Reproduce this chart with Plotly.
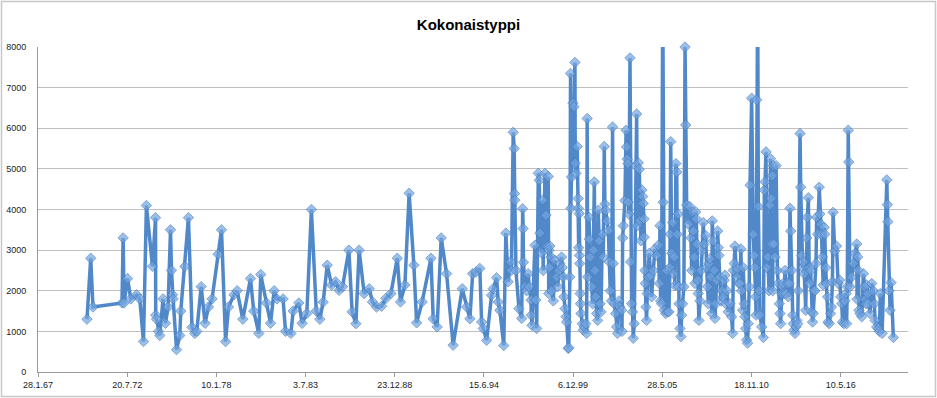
import plotly.graph_objects as go
from datetime import datetime, timedelta

# ---- data (dates as decimal years, values) ----
years_a = [
    1970.08, 1970.31, 1970.45, 1972.23, 1972.30, 1972.36, 1972.57, 1972.77, 1973.12, 1973.32,
    1973.55, 1973.73, 1974.10, 1974.29, 1974.30, 1974.35, 1974.47, 1974.55, 1974.75, 1974.90,
    1975.06, 1975.21, 1975.27, 1975.33, 1975.37, 1975.58, 1975.78, 1975.84, 1976.09, 1976.31,
    1976.53, 1976.70, 1976.82, 1977.09, 1977.33, 1977.54, 1977.76, 1978.13, 1978.34, 1978.59,
    1978.77, 1979.11, 1979.30, 1979.65, 1980.12, 1980.32, 1980.63, 1980.75, 1981.10, 1981.35,
    1981.57, 1981.75, 1982.12, 1982.27, 1982.60, 1982.74, 1983.09, 1983.29, 1983.58, 1983.86,
    1984.16, 1984.38, 1984.58, 1984.83, 1985.10, 1985.34, 1985.56, 1985.77, 1986.16, 1986.36,
    1986.59, 1986.79, 1987.10, 1987.41, 1987.61, 1987.86, 1988.17, 1988.43, 1988.74, 1989.13,
    1989.33, 1989.60, 1989.86, 1990.15, 1990.32, 1990.66, 1991.20, 1991.34, 1991.58, 1991.83,
    1992.16, 1992.56, 1993.12, 1993.39, 1993.59, 1993.76, 1993.96, 1994.20, 1994.31, 1994.41,
    1994.62, 1994.92, 1995.02, 1995.23, 1995.33, 1995.43,
]
values_a = [
    1300, 2800, 1600, 1700, 3300, 1700, 2300, 1800, 1900, 1800,
    750, 4100, 2600, 3800, 1400, 1300, 1000, 900, 1800, 1200,
    1600, 3500, 2500, 1900, 1800, 550, 900, 1500, 2600, 3800,
    1100, 950, 1000, 2100, 1200, 1600, 1800, 2900, 3500, 750,
    1600, 1900, 2000, 1300, 2300, 1500, 950, 2400, 1700, 1200,
    2000, 1800, 1800, 1000, 950, 1500, 1700, 1200, 1440, 4000,
    1500, 1300, 1720, 2630, 2140, 2220, 2010, 2100, 3000, 1480,
    1190, 3000, 1930, 2050, 1725, 1600, 1620, 1810, 1930, 2800,
    1725, 2140, 4400, 2630, 1210, 1725, 2800, 1310, 1110, 3300,
    2420, 660, 2050, 1600, 1310, 2420, 2460, 2550, 1230, 1070,
    780, 1890, 2050, 2320, 1725, 1520,
]

years_b = [
    1995.67, 1995.80, 1995.94, 1996.09, 1996.14, 1996.25, 1996.31, 1996.33, 1996.35, 1996.42,
    1996.60, 1996.77, 1996.83, 1996.86, 1996.88, 1996.97, 1997.07, 1997.17, 1997.23, 1997.34,
    1997.36, 1997.40, 1997.58, 1997.64, 1997.69, 1997.79, 1997.85, 1997.89, 1997.99, 1998.06,
    1998.09, 1998.20, 1998.26, 1998.34, 1998.40, 1998.43, 1998.45, 1998.47, 1998.50, 1998.57,
    1998.61, 1998.71, 1998.81, 1998.92, 1998.98, 1999.06, 1999.12, 1999.22, 1999.26, 1999.32,
    1999.36, 1999.43, 1999.49, 1999.53, 1999.63, 1999.66, 1999.73, 1999.77, 1999.79, 1999.83,
    1999.92, 1999.98, 2000.04, 2000.06, 2000.10, 2000.18, 2000.24, 2000.25, 2000.27, 2000.30,
    2000.32, 2000.33, 2000.36, 2000.38, 2000.41, 2000.49, 2000.55, 2000.61, 2000.70, 2000.76,
    2000.79, 2000.82, 2000.90, 2000.92, 2000.98, 2001.07, 2001.13, 2001.17, 2001.23, 2001.27,
    2001.31, 2001.37, 2001.43, 2001.47, 2001.53, 2001.58, 2001.64, 2001.72, 2001.78, 2001.84,
    2001.88, 2001.94, 2002.01, 2002.09, 2002.15, 2002.21, 2002.29, 2002.35, 2002.39, 2002.45,
    2002.54, 2002.60, 2002.66, 2002.74, 2002.80,
]
values_b = [
    650, 3420, 2220, 2710, 2500, 5900, 5500, 4390, 4230, 2500,
    1560, 1320, 4020, 3530, 2700, 2100, 2000, 2420, 2100, 1770,
    1400, 1150, 3120, 1770, 1070, 4890, 4720, 3420, 2930, 4230,
    2500, 4890, 3860, 3090, 4810, 1930, 3000, 2570, 3100, 2830,
    2000, 1750, 2750, 2340, 2100, 2500, 2670, 2830, 2570, 2340,
    1850, 1560, 1360, 1230, 580, 600, 2340, 7350, 4030, 4800,
    6620, 6530, 7620, 5140, 4890, 5550, 4270, 4030, 3060, 3900,
    2870, 2670, 1930, 1680, 1440, 1190, 1030, 1110, 1190, 950,
    6240, 2340, 3810, 3270, 2830, 2100, 1680, 3000, 4680, 2500,
    1850, 1440, 1270, 3980, 3230, 1680, 1480, 3390, 2830, 5550,
    4130, 3980, 3720, 3480, 2710, 2000, 1750, 6030, 2670, 1680,
    1440, 1110, 950, 1750, 1600,
]

years_c = [
    2002.91, 2002.93, 2002.97, 2003.01, 2003.11, 2003.18, 2003.21, 2003.25, 2003.29, 2003.31,
    2003.35, 2003.42, 2003.46, 2003.52, 2003.58, 2003.62, 2003.68, 2003.77, 2003.83, 2003.87,
    2003.93, 2003.99, 2004.03, 2004.09, 2004.15, 2004.20, 2004.23, 2004.28, 2004.29, 2004.34,
    2004.36, 2004.40, 2004.44, 2004.48, 2004.54, 2004.60, 2004.69, 2004.75, 2004.85, 2004.95,
    2005.06, 2005.16, 2005.22, 2005.26, 2005.30, 2005.36, 2005.43, 2005.46, 2005.52, 2005.61,
    2005.67, 2005.73, 2005.81, 2005.87, 2005.89, 2005.92, 2005.98, 2006.04, 2006.08, 2006.14,
    2006.18, 2006.24, 2006.29, 2006.32, 2006.38, 2006.40, 2006.43, 2006.49, 2006.55, 2006.59,
    2006.65, 2006.73, 2006.80, 2006.84, 2006.90, 2007.00, 2007.10, 2007.16, 2007.21, 2007.27,
    2007.31, 2007.37, 2007.41, 2007.45, 2007.49, 2007.53, 2007.58, 2007.61, 2007.65, 2007.72,
    2007.78, 2007.82, 2007.92, 2007.98, 2008.07, 2008.13, 2008.19, 2008.23, 2008.27, 2008.33,
    2008.39, 2008.44, 2008.47, 2008.53, 2008.59, 2008.64, 2008.68, 2008.74, 2008.80, 2008.84,
    2008.88, 2008.94, 2009.00, 2009.08, 2009.14, 2009.21, 2009.25, 2009.31, 2009.37, 2009.45,
    2009.56, 2009.66, 2009.72, 2009.76, 2009.82, 2009.86, 2009.97, 2010.03, 2010.11, 2010.17,
    2010.23, 2010.27, 2010.34, 2010.37, 2010.43, 2010.48, 2010.52, 2010.58, 2010.64, 2010.68,
    2010.74,
]
values_c = [
    1520, 1000, 3300, 3600, 4220, 5950, 5540, 5240, 5130, 4180,
    3890, 7730, 2710, 1680, 1480, 830, 1190, 5080, 6350, 3600,
    5150, 4990, 3730, 3230, 4480, 4320, 4150, 3770, 3320, 2500,
    2180, 1600, 1270, 1930, 2340, 2920, 2380, 1850, 2500, 3030,
    2870, 3120, 2180, 3600, 1750, 1680, 9500, 4180, 1520, 1440,
    2500, 1480, 1480, 2570, 3390, 5670, 2920, 3680, 2420, 2830,
    2130, 5130, 4920, 3390, 3890, 2100, 1680, 1070, 870, 1400,
    1680, 2100, 8000, 6080, 4110, 3640, 4070, 3300, 2500, 3940,
    3470, 2830, 2180, 3940, 3770, 3150, 2260, 1930, 1270, 1750,
    2500, 2980, 3680, 3150, 3360, 2570, 2100, 1680, 2670, 2790,
    2340, 1440, 3720, 3230, 2500, 1320, 1680, 2260, 3470, 3060,
    2870, 2340, 1750, 2000, 1850, 2260, 2380, 1680, 2000, 1480,
    1680, 1360, 950, 2500, 2670, 3100, 2340, 2540, 2180, 2180,
    3030, 2000, 1520, 2570, 1680, 1360, 1070, 790, 710, 1190,
    2100,
]

years_d = [
    2010.79, 2010.89, 2010.99, 2011.05, 2011.09, 2011.14, 2011.16, 2011.20, 2011.26, 2011.30,
    2011.34, 2011.40, 2011.51, 2011.61, 2011.67, 2011.71, 2011.77, 2011.82, 2011.88, 2011.96,
    2012.02, 2012.05, 2012.08, 2012.12, 2012.16, 2012.18, 2012.22, 2012.26, 2012.33, 2012.39,
    2012.47, 2012.53, 2012.59, 2012.63, 2012.67, 2012.73, 2012.80, 2012.83, 2012.87, 2012.94,
    2013.00, 2013.08, 2013.14, 2013.20, 2013.24, 2013.29, 2013.35, 2013.41, 2013.45, 2013.49,
    2013.55, 2013.61, 2013.66, 2013.72, 2013.75, 2013.86, 2013.90, 2013.96, 2014.02, 2014.06,
    2014.12, 2014.21, 2014.27, 2014.31, 2014.37, 2014.43, 2014.47, 2014.51, 2014.57, 2014.63,
    2014.67, 2014.73, 2014.77, 2014.84, 2014.88, 2014.94, 2015.04, 2015.08, 2015.14, 2015.18,
    2015.24, 2015.28, 2015.34, 2015.38, 2015.44, 2015.49, 2015.55, 2015.58, 2015.65, 2015.73,
    2015.79, 2015.85, 2015.89, 2015.99, 2016.10, 2016.20, 2016.30, 2016.36, 2016.42, 2016.47,
    2016.55, 2016.62, 2016.68, 2016.72, 2016.76, 2016.82, 2016.85, 2016.93, 2017.03, 2017.13,
    2017.24, 2017.34, 2017.36, 2017.40, 2017.44, 2017.48, 2017.54, 2017.65, 2017.75, 2017.81,
    2017.85, 2017.91, 2017.95, 2018.02, 2018.05, 2018.16, 2018.26, 2018.36, 2018.42, 2018.47,
    2018.57, 2018.67, 2018.73, 2018.79, 2018.90, 2019.19, 2019.22, 2019.25, 2019.33, 2019.39,
    2019.45, 2019.59,
]
values_d = [
    4600, 6740, 3390, 2870, 2570, 1850, 1400, 6700, 9500, 4070,
    2000, 1400, 1110, 850, 4480, 4680, 5420, 2570, 2830, 2000,
    4110, 5250, 4270, 3150, 4830, 2000, 5080, 3150, 2830, 5080,
    2500, 2180, 1680, 1440, 1190, 1930, 2100, 2180, 1930, 2500,
    1930, 2180, 1850, 2180, 4030, 3470, 2500, 1400, 1190, 1030,
    950, 1110, 1270, 1190, 2000, 5870, 4550, 2870, 2570, 2710,
    2420, 1520, 3300, 3810, 4290, 2180, 2570, 2500, 1480, 1230,
    1440, 2000, 2000, 2670, 3810, 3390, 4550, 3890, 3640, 3390,
    2830, 2140, 3560, 3390, 2570, 2180, 1850, 1230, 1190, 1440,
    1600, 2220, 3930, 2980, 3100, 2180, 2260, 1850, 1680, 1230,
    1190, 1750, 1930, 1190, 2100, 5950, 5170, 2100, 2340, 2670,
    2920, 3150, 1790, 2830, 2500, 1520, 1440, 1360, 2420, 2100,
    1790, 1680, 2140, 1930, 1680, 1440, 2180, 2000, 1680, 1270,
    1110, 1070, 1000, 1930, 950, 4730, 4120, 3700, 2000, 1520,
    2200, 850,
]

title_text = "Kokonaistyppi"
y_max = 8000
y_step = 1000
axis_start = datetime(1967, 1, 28)
axis_end = datetime(2020, 6, 28)
tick_step_days = 2000

for ys, vs in ((years_a, values_a), (years_b, values_b), (years_c, values_c), (years_d, values_d)):
    assert len(ys) == len(vs), (len(ys), len(vs))

years = years_a + years_b + years_c + years_d
values = values_a + values_b + values_c + values_d


def to_date(y):
    base = datetime(int(y), 1, 1)
    nxt = datetime(int(y) + 1, 1, 1)
    return base + (nxt - base) * (y - int(y))


order = sorted(range(len(years)), key=lambda i: years[i])
dates = [to_date(years[i]) for i in order]
vals = [values[i] for i in order]
msizes = [8 if v <= y_max else 0 for v in vals]

tickvals = []
d = axis_start
while d <= axis_end:
    tickvals.append(d)
    d = d + timedelta(days=tick_step_days)
ticktext = [f"{t.day}.{t.month}.{t.year % 100:02d}" for t in tickvals]

line_color = "#5088C9"

fig = go.Figure()
fig.add_trace(go.Scatter(
    x=dates, y=vals, mode="lines+markers",
    line=dict(color=line_color, width=3.5),
    marker=dict(symbol="diamond", size=msizes, color="#73A5E0",
                line=dict(color="#4A80C0", width=1)),
    cliponaxis=False,
    showlegend=False,
))

W, H = 937, 398
ml, mr, mt, mb = 38, 29, 47, 26
pw, ph = W - ml - mr, H - mt - mb

fig.update_layout(
    width=W, height=H,
    margin=dict(l=ml, r=mr, t=mt, b=mb, pad=0, autoexpand=False),
    paper_bgcolor="white", plot_bgcolor="white",
    font=dict(family="Liberation Sans, Arial, sans-serif", size=9, color="#222222"),
    title=dict(text=f"<b>{title_text}</b>", x=0.5, xanchor="center",
               y=(H - 25) / H, yanchor="middle", yref="container",
               font=dict(size=15, color="#000000",
                         family="Liberation Sans, Arial, sans-serif")),
    xaxis=dict(
        type="date", range=[axis_start, axis_end], automargin=False,
        tickmode="array", tickvals=tickvals, ticktext=ticktext,
        showgrid=False, zeroline=False,
        showline=True, linecolor="#9a9a9a", linewidth=1,
        ticks="outside", ticklen=4, tickcolor="#9a9a9a",
        tickfont=dict(size=9, color="#222222"),
    ),
    yaxis=dict(
        range=[0, y_max], tickmode="linear", tick0=0, dtick=y_step, automargin=False,
        showgrid=True, gridcolor="#bfbfbf", gridwidth=1.2,
        zeroline=False, showline=True, linecolor="#9a9a9a", linewidth=1,
        ticks="", ticklabelstandoff=9,
        tickfont=dict(size=9, color="#222222"),
    ),
    shapes=[dict(
        type="rect", xref="paper", yref="paper",
        x0=(1.5 - ml) / pw, x1=(W - 1.5 - ml) / pw,
        y0=-(mb - 1.5) / ph, y1=(ph + mt - 1.5) / ph,
        line=dict(color="#c8c8c8", width=1.5), fillcolor="rgba(0,0,0,0)",
        layer="below",
    )],
)

fig.write_html("out.html", config={"displayModeBar": False},
               post_script="document.body.style.margin='0';")
